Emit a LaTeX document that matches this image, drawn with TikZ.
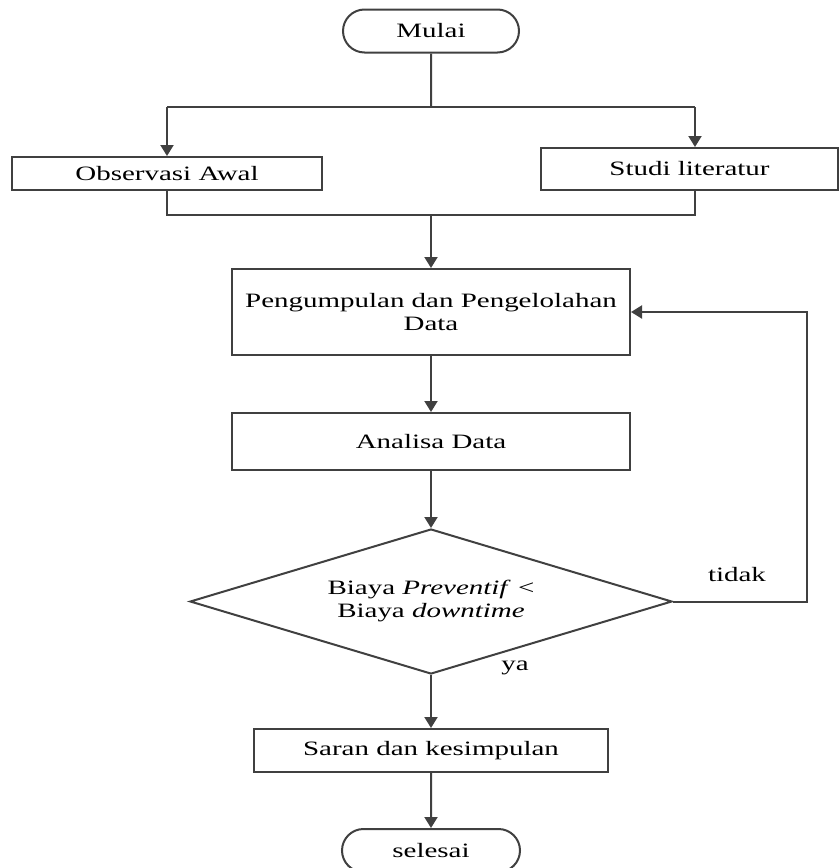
\documentclass[tikz,border=0pt]{standalone}
\usepackage{fontspec}
\setmainfont{Liberation Serif}[FakeStretch=1.42]
\usetikzlibrary{shapes.geometric,shapes.misc,arrows.meta,positioning}
\tikzset{
  garis/.style={draw=black!75,line width=1pt},
  panah/.style={garis,-{Triangle[width=6.5pt,length=5.5pt]}},
  proses/.style={garis,rectangle,inner sep=0pt,align=center},
  terminal/.style={garis,rounded rectangle,minimum width=88pt,minimum height=21.5pt,inner sep=0pt},
  keputusan/.style={garis,diamond,aspect=3.3,minimum width=241pt,minimum height=72.5pt,inner sep=0pt,align=center},
}

\begin{document}
\begin{tikzpicture}[x=0.5pt,y=-0.5pt,font=\fontsize{10.2}{11.5}\selectfont]
    \useasboundingbox (0,0) rectangle (840,868);

    \node[terminal] (mulai) at (431,31) {Mulai};
    \node[proses,minimum width=155pt,minimum height=16.5pt] (observasi) at (167,173.5) {Observasi Awal};
    \node[proses,minimum width=148.5pt,minimum height=21pt] (studi) at (689.5,169) {Studi literatur};
    \node[proses,minimum width=199pt,minimum height=43pt] (kumpul) at (431,312) {Pengumpulan dan Pengelolahan\\Data};
    \node[proses,minimum width=199pt,minimum height=28.5pt] (analisa) at (431,441.5) {Analisa Data};
    \node[keputusan] (biaya) at (431,601.5) {Biaya \textit{Preventif} <\\Biaya \textit{downtime}};
    \node[proses,minimum width=177pt,minimum height=21.5pt] (saran) at (431,750.5) {Saran dan kesimpulan};
    \node[terminal,minimum width=89pt] (selesai) at (431,850.5) {selesai};

    % percabangan
    \coordinate (cabang) at (431,107);
    \coordinate (cabangkiri) at (167,107);
    \coordinate (cabangkanan) at (695,107);
    \coordinate (gabung) at (431,215);
    \coordinate (balik) at (807,312);

    \draw[garis] (mulai) -- (cabang);
    \draw[garis] (cabangkiri) -- (cabangkanan);
    \draw[panah] (cabangkiri) -- (observasi);
    \draw[panah] (cabangkanan) -- (cabangkanan |- studi.north);
    \draw[garis] (observasi.south) |- (gabung) -| (cabangkanan |- studi.south);
    \draw[panah] (gabung) -- (kumpul);
    \draw[panah] (kumpul) -- (analisa);
    \draw[panah] (analisa) -- (biaya);
    \draw[panah] (biaya) -- (saran);
    \draw[panah] (saran) -- (selesai);
    \draw[panah] (biaya.east) -| (balik) -- (kumpul.east);

    \node (tidak) at (737,575) {tidak};
    \node (ya) at (515,668) {ya};
\end{tikzpicture}
\end{document}
